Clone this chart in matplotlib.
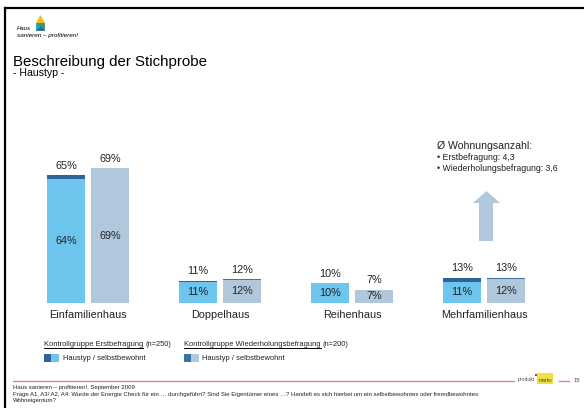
import matplotlib
matplotlib.use("Agg")
import matplotlib.pyplot as plt
from matplotlib.patches import Rectangle, Polygon
import numpy as np

plt.rcParams['font.family'] = ['Liberation Sans', 'DejaVu Sans']

categories = ["Einfamilienhaus", "Doppelhaus", "Reihenhaus", "Mehrfamilienhaus"]
erst_total = [65.4, 11.4, 10.2, 13.0]
erst_selbst = [63.6, 11.0, 10.2, 11.0]
wieder_total = [69.0, 12.3, 6.8, 12.9]
wieder_selbst = [69.0, 12.0, 6.8, 12.4]

C_LIGHT = "#6dc4ec"
C_DARK = "#2b6599"
C_GRAY = "#b1c8dc"
C_DARK2 = "#3f73a0"
C_RED = "#d98a8a"
C_TXT = "#222222"

W, H = 584, 408
fig = plt.figure(figsize=(W / 100, H / 100), dpi=100)

def fx(px):
    return px / W

def fy(py):
    return 1 - py / H

ov = fig.add_axes([0, 0, 1, 1])
ov.set_xlim(0, W)
ov.set_ylim(H, 0)
ov.axis("off")

# frame lines
ov.plot([5, W], [8, 8], color="black", lw=1.6)
ov.plot([5, 5], [8, H], color="black", lw=1.6)

# logo
ov.add_patch(Polygon([[36, 23], [40.5, 15], [45, 23]], closed=True, color="#e8c020", lw=0))
ov.add_patch(Rectangle((36, 23), 9, 7.5, color="#3a9a6a", lw=0))
ov.add_patch(Polygon([[36, 30.5], [40.5, 26], [45, 30.5]], closed=True, color="#2b6599", lw=0))
ov.add_patch(Polygon([[36, 23], [40.5, 27], [36, 30.5]], closed=True, color="#2aa0c8", lw=0))
ov.text(17, 28.5, "Haus", fontsize=4.3, style="italic", va="center", ha="left")
ov.text(17, 35.5, "sanieren – profitieren!", fontsize=4.6, style="italic", va="center", ha="left")

# title
ov.text(13, 62, "Beschreibung der Stichprobe", fontsize=10.8, va="center", ha="left")
ov.text(13, 73, "- Haustyp -", fontsize=7.6, va="center", ha="left")

# bars axes
ax = fig.add_axes([fx(22), fy(303), fx(550) - fx(22), fy(108) - fy(303)])
ax.set_xlim(-0.5, 3.5)
ax.set_ylim(0, 100)
ax.axis("off")
ax.patch.set_alpha(0)

x = np.arange(len(categories))
bw = 0.284
off = 0.1667

e_dark = np.array(erst_total) - np.array(erst_selbst)
w_dark = np.array(wieder_total) - np.array(wieder_selbst)
ax.bar(x - off, erst_selbst, bw, color=C_LIGHT, linewidth=0)
ax.bar(x - off, e_dark, bw, bottom=erst_selbst, color=C_DARK, linewidth=0)
ax.bar(x + off, wieder_selbst, bw, color=C_GRAY, linewidth=0)
ax.bar(x + off, w_dark, bw, bottom=wieder_selbst, color=C_DARK2, linewidth=0)

for i in range(len(categories)):
    for xpos, tot, sel in [(x[i] - off, erst_total[i], erst_selbst[i]),
                           (x[i] + off, wieder_total[i], wieder_selbst[i])]:
        ax.annotate(f"{round(tot)}%", (xpos, tot), xytext=(0, 6.8),
                    textcoords="offset points", ha="center", va="center",
                    fontsize=7.8, color=C_TXT)
        ax.text(xpos, sel / 2, f"{round(sel)}%", ha="center", va="center",
                fontsize=7.8, color=C_TXT)
    ax.annotate(categories[i], (x[i], 0), xytext=(0, -8.8),
                textcoords="offset points", ha="center", va="center",
                fontsize=7.8, color=C_TXT)

# arrow and note
ov.add_patch(Polygon([[479, 241], [479, 203], [473, 203], [486.5, 191],
                      [500, 203], [493, 203], [493, 241]], closed=True,
                     color=C_GRAY, lw=0))
ov.text(437, 146, "Ø Wohnungsanzahl:", fontsize=7.6, va="center", ha="left", color=C_TXT)
ov.text(437, 157.5, "• Erstbefragung: 4,3", fontsize=6.3, va="center", ha="left", color=C_TXT)
ov.text(437, 168.5, "• Wiederholungsbefragung: 3,6", fontsize=6.3, va="center", ha="left", color=C_TXT)

# legend
fig.canvas.draw()
renderer = fig.canvas.get_renderer()

def underlined(xp, yp, main, rest):
    t = ov.text(xp, yp, main, fontsize=5.4, va="center", ha="left", color=C_TXT)
    bb = t.get_window_extent(renderer)
    wpx = bb.width
    ov.plot([xp, xp + wpx], [yp + 4.2, yp + 4.2], color="black", lw=0.7)
    ov.text(xp + wpx + 1.8, yp, rest, fontsize=5.4, va="center", ha="left", color=C_TXT)

underlined(44, 344, "Kontrollgruppe Erstbefragung", "(n=250)")
underlined(184, 344, "Kontrollgruppe Wiederholungsbefragung", "(n=200)")

ov.add_patch(Rectangle((44, 354), 7, 8, color=C_DARK, lw=0))
ov.add_patch(Rectangle((51, 354), 8, 8, color=C_LIGHT, lw=0))
ov.text(63, 358, "Haustyp / selbstbewohnt", fontsize=5.4, va="center", ha="left", color=C_TXT)
ov.add_patch(Rectangle((184, 354), 7, 8, color=C_DARK2, lw=0))
ov.add_patch(Rectangle((191, 354), 8, 8, color=C_GRAY, lw=0))
ov.text(202, 358, "Haustyp / selbstbewohnt", fontsize=5.4, va="center", ha="left", color=C_TXT)

# footer
ov.plot([13, 514], [381, 381], color=C_RED, lw=1.0)
ov.plot([559, 569], [381, 381], color=C_RED, lw=1.0)
ov.add_patch(Rectangle((537, 373), 16, 11, color="#f0e040", lw=0))
ov.text(518, 380, "produkt", fontsize=3.6, va="center", ha="left", color="#444444")
ov.text(539, 380, "marks", fontsize=3.6, va="center", ha="left", color="#444444")
ov.add_patch(Rectangle((535, 374), 2, 2, color="#d02020", lw=0))
ov.text(574, 380, "15", fontsize=4.2, va="center", ha="left", color="#444444")
ov.text(13, 388, "Haus sanieren – profitieren!, September 2009", fontsize=4.3,
        va="center", ha="left", color=C_TXT)
ov.text(13, 394.5, "Frage A1, A3/ A2, A4: Wurde der Energie Check für ein … durchgeführt? "
        "Sind Sie Eigentümer eines …? Handelt es sich hierbei um ein selbstbewohntes oder fremdbewohntes",
        fontsize=4.3, va="center", ha="left", color=C_TXT)
ov.text(13, 400.5, "Wohneigentum?", fontsize=4.3, va="center", ha="left", color=C_TXT)

fig.savefig("out.png", dpi=100)
